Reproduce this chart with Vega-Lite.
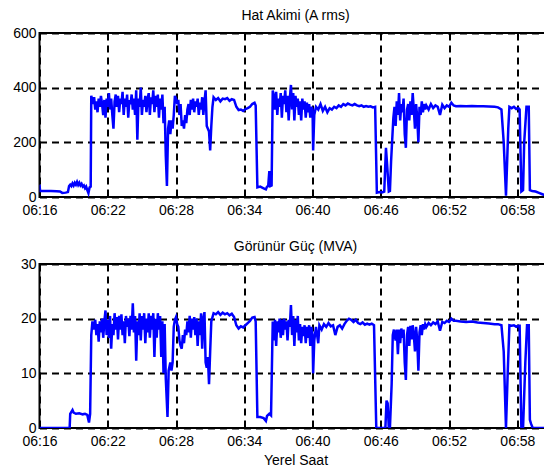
{
  "$schema": "https://vega.github.io/schema/vega-lite/v6.json",
  "padding": {"left": 11.5, "top": 8, "right": 0, "bottom": 0},
  "background": "white",
  "spacing": 21,
  "config": {
    "font": "Liberation Sans",
    "view": {"stroke": "black", "strokeWidth": 2},
    "axis": {
      "grid": true, "gridColor": "black", "gridDash": [7, 5], "gridWidth": 2, "gridOpacity": 1,
      "domain": false, "ticks": false,
      "labelFont": "Liberation Sans", "labelFontSize": 14, "labelColor": "black",
      "titleFont": "Liberation Sans", "titleFontSize": 14, "titleFontWeight": "normal", "titleColor": "black"
    },
    "title": {"font": "Liberation Sans", "fontSize": 14, "fontWeight": "normal", "color": "black", "offset": 3}
  },
  "datasets": {
    "current": [
      {"t":16.0,"v":45},{"t":16.05,"v":22},{"t":16.5,"v":22},{"t":17.0,"v":22},{"t":17.5,"v":21},{"t":17.8,"v":20},{"t":18.0,"v":15},{"t":18.3,"v":16},{"t":18.5,"v":18},
      {"t":18.6,"v":40},{"t":18.7,"v":45},{"t":18.8,"v":40},{"t":18.9,"v":50},{"t":19.0,"v":42},{"t":19.1,"v":52},{"t":19.2,"v":45},{"t":19.3,"v":55},{"t":19.4,"v":44},{"t":19.5,"v":52},{"t":19.6,"v":42},{"t":19.7,"v":48},{"t":19.8,"v":38},{"t":19.9,"v":42},{"t":20.0,"v":32},{"t":20.1,"v":38},{"t":20.2,"v":25},{"t":20.3,"v":14},{"t":20.4,"v":35},{"t":20.5,"v":38},
      {"t":20.55,"v":370},{"t":20.6,"v":360},{"t":20.7,"v":340},{"t":20.8,"v":365},{"t":20.9,"v":320},{"t":21.0,"v":350},{"t":21.1,"v":310},{"t":21.2,"v":360},{"t":21.3,"v":330},{"t":21.4,"v":370},{"t":21.5,"v":340},{"t":21.6,"v":300},{"t":21.7,"v":355},{"t":21.8,"v":290},{"t":21.9,"v":360},{"t":22.0,"v":330},{"t":22.1,"v":380},{"t":22.2,"v":320},{"t":22.3,"v":360},{"t":22.4,"v":300},{"t":22.5,"v":250},{"t":22.6,"v":350},{"t":22.7,"v":375},{"t":22.8,"v":330},{"t":22.9,"v":370},{"t":23.0,"v":310},{"t":23.1,"v":360},{"t":23.2,"v":340},{"t":23.3,"v":385},{"t":23.4,"v":300},{"t":23.5,"v":360},{"t":23.6,"v":330},{"t":23.7,"v":375},{"t":23.8,"v":290},{"t":23.9,"v":355},{"t":24.0,"v":340},{"t":24.1,"v":375},{"t":24.2,"v":320},{"t":24.3,"v":360},{"t":24.4,"v":300},{"t":24.5,"v":390},{"t":24.6,"v":210},{"t":24.7,"v":360},{"t":24.8,"v":330},{"t":24.9,"v":400},{"t":25.0,"v":300},{"t":25.1,"v":355},{"t":25.2,"v":330},{"t":25.3,"v":370},{"t":25.4,"v":310},{"t":25.5,"v":360},{"t":25.6,"v":380},{"t":25.7,"v":300},{"t":25.8,"v":365},{"t":25.9,"v":340},{"t":26.0,"v":390},{"t":26.1,"v":310},{"t":26.2,"v":370},{"t":26.3,"v":330},{"t":26.4,"v":375},{"t":26.5,"v":290},{"t":26.6,"v":360},{"t":26.7,"v":320},{"t":26.8,"v":375},{"t":26.9,"v":270},{"t":27.0,"v":330},{"t":27.1,"v":150},{"t":27.2,"v":40},{"t":27.3,"v":250},{"t":27.4,"v":280},{"t":27.5,"v":230},{"t":27.6,"v":280},{"t":27.7,"v":250},{"t":27.8,"v":300},{"t":27.9,"v":370},
      {"t":28.0,"v":360},{"t":28.1,"v":340},{"t":28.2,"v":355},{"t":28.3,"v":300},{"t":28.4,"v":340},{"t":28.5,"v":260},{"t":28.6,"v":280},{"t":28.7,"v":250},{"t":28.8,"v":300},{"t":28.9,"v":270},{"t":29.0,"v":320},{"t":29.1,"v":340},{"t":29.2,"v":300},{"t":29.3,"v":355},{"t":29.4,"v":320},{"t":29.5,"v":360},{"t":29.6,"v":310},{"t":29.7,"v":350},{"t":29.8,"v":330},{"t":29.9,"v":360},{"t":30.0,"v":300},{"t":30.1,"v":345},{"t":30.2,"v":320},{"t":30.3,"v":365},{"t":30.4,"v":300},{"t":30.5,"v":350},{"t":30.6,"v":390},{"t":30.7,"v":260},{"t":30.8,"v":250},{"t":30.9,"v":240},{"t":31.0,"v":170},{"t":31.1,"v":260},{"t":31.2,"v":330},{"t":31.3,"v":365},{"t":31.5,"v":355},{"t":31.7,"v":362},{"t":31.9,"v":350},{"t":32.1,"v":360},{"t":32.3,"v":358},{"t":32.5,"v":362},{"t":32.7,"v":352},{"t":32.9,"v":358},{"t":33.1,"v":355},{"t":33.3,"v":330},{"t":33.5,"v":318},{"t":33.7,"v":320},{"t":33.9,"v":315},{"t":34.1,"v":322},{"t":34.3,"v":325},{"t":34.5,"v":330},{"t":34.7,"v":340},{"t":34.9,"v":345},{"t":35.0,"v":335},
      {"t":35.15,"v":35},{"t":35.4,"v":38},{"t":35.7,"v":32},{"t":35.9,"v":28},{"t":36.0,"v":38},{"t":36.1,"v":40},{"t":36.2,"v":95},{"t":36.3,"v":40},{"t":36.4,"v":42},
      {"t":36.5,"v":390},{"t":36.6,"v":370},{"t":36.7,"v":320},{"t":36.8,"v":385},{"t":36.9,"v":300},{"t":37.0,"v":360},{"t":37.1,"v":330},{"t":37.2,"v":380},{"t":37.3,"v":290},{"t":37.4,"v":370},{"t":37.5,"v":340},{"t":37.6,"v":390},{"t":37.7,"v":310},{"t":37.8,"v":370},{"t":37.9,"v":280},{"t":38.0,"v":360},{"t":38.1,"v":410},{"t":38.2,"v":320},{"t":38.3,"v":380},{"t":38.4,"v":280},{"t":38.5,"v":370},{"t":38.6,"v":330},{"t":38.7,"v":360},{"t":38.8,"v":300},{"t":38.9,"v":350},{"t":39.0,"v":280},{"t":39.1,"v":360},{"t":39.2,"v":320},{"t":39.3,"v":350},{"t":39.4,"v":290},{"t":39.5,"v":345},{"t":39.6,"v":310},{"t":39.7,"v":340},{"t":39.8,"v":290},{"t":39.9,"v":330},{"t":40.0,"v":320},{"t":40.05,"v":170},{"t":40.15,"v":300},
      {"t":40.3,"v":330},{"t":40.5,"v":320},{"t":40.7,"v":340},{"t":40.9,"v":315},{"t":41.1,"v":330},{"t":41.3,"v":310},{"t":41.5,"v":325},{"t":41.7,"v":320},{"t":41.9,"v":330},{"t":42.1,"v":325},{"t":42.3,"v":335},{"t":42.5,"v":330},{"t":42.7,"v":340},{"t":42.9,"v":335},{"t":43.1,"v":342},{"t":43.3,"v":338},{"t":43.5,"v":335},{"t":43.7,"v":340},{"t":43.9,"v":335},{"t":44.1,"v":332},{"t":44.3,"v":335},{"t":44.5,"v":330},{"t":44.7,"v":333},{"t":44.9,"v":330},{"t":45.1,"v":332},{"t":45.3,"v":328},{"t":45.5,"v":330},
      {"t":45.65,"v":16},{"t":45.9,"v":18},{"t":46.1,"v":17},{"t":46.3,"v":20},{"t":46.45,"v":180},{"t":46.55,"v":120},{"t":46.7,"v":20},{"t":46.8,"v":22},{"t":46.9,"v":130},
      {"t":47.1,"v":290},{"t":47.2,"v":330},{"t":47.3,"v":260},{"t":47.4,"v":350},{"t":47.5,"v":300},{"t":47.6,"v":380},{"t":47.7,"v":280},{"t":47.8,"v":340},{"t":47.9,"v":310},{"t":48.0,"v":360},{"t":48.1,"v":230},{"t":48.2,"v":180},{"t":48.3,"v":320},{"t":48.4,"v":340},{"t":48.5,"v":280},{"t":48.6,"v":350},{"t":48.7,"v":300},{"t":48.8,"v":380},{"t":48.9,"v":320},{"t":49.0,"v":250},{"t":49.1,"v":340},{"t":49.2,"v":290},{"t":49.3,"v":200},{"t":49.4,"v":330},{"t":49.5,"v":300},{"t":49.6,"v":350},{"t":49.7,"v":310},{"t":49.8,"v":340},{"t":49.9,"v":320},
      {"t":50.0,"v":335},{"t":50.2,"v":320},{"t":50.4,"v":340},{"t":50.6,"v":325},{"t":50.8,"v":335},{"t":51.0,"v":330},{"t":51.2,"v":300},{"t":51.4,"v":338},{"t":51.6,"v":325},{"t":51.8,"v":335},{"t":52.0,"v":330},{"t":52.2,"v":345},{"t":52.4,"v":335},{"t":52.6,"v":332},{"t":53.0,"v":333},{"t":53.5,"v":332},{"t":54.0,"v":333},{"t":54.5,"v":332},{"t":55.0,"v":332},{"t":55.5,"v":331},{"t":56.0,"v":330},{"t":56.3,"v":328},{"t":56.6,"v":320},
      {"t":56.8,"v":200},{"t":57.0,"v":5},{"t":57.2,"v":250},{"t":57.3,"v":330},{"t":57.5,"v":325},{"t":57.7,"v":330},{"t":57.9,"v":322},{"t":58.1,"v":325},{"t":58.2,"v":320},{"t":58.35,"v":20},{"t":58.5,"v":25},{"t":58.6,"v":200},{"t":58.8,"v":330},{"t":59.0,"v":330},{"t":59.1,"v":25},{"t":59.3,"v":22},{"t":59.6,"v":20},{"t":59.9,"v":15},{"t":60.2,"v":10},{"t":60.5,"v":5},{"t":60.8,"v":2}
    ],
    "power": [
      {"t":16.0,"v":0},{"t":18.65,"v":0},{"t":18.7,"v":2.6},{"t":18.9,"v":3.3},{"t":19.0,"v":2.8},{"t":19.2,"v":2.6},{"t":19.5,"v":2.7},{"t":19.8,"v":2.5},{"t":20.0,"v":2.6},{"t":20.2,"v":2.4},{"t":20.35,"v":1.0},{"t":20.45,"v":2.6},
      {"t":20.55,"v":17},{"t":20.65,"v":19.5},{"t":20.8,"v":18},{"t":20.9,"v":19.8},{"t":21.0,"v":17},{"t":21.1,"v":19},{"t":21.2,"v":15.8},{"t":21.3,"v":19.5},{"t":21.4,"v":17.5},{"t":21.5,"v":20},{"t":21.6,"v":16.5},{"t":21.7,"v":19.5},{"t":21.8,"v":21.5},{"t":21.9,"v":17},{"t":22.0,"v":19.8},{"t":22.1,"v":16.5},{"t":22.2,"v":20.5},{"t":22.3,"v":14.5},{"t":22.4,"v":19},{"t":22.5,"v":17},{"t":22.6,"v":21},{"t":22.7,"v":18},{"t":22.8,"v":20.3},{"t":22.9,"v":16.2},{"t":23.0,"v":20.5},{"t":23.1,"v":18},{"t":23.2,"v":20.8},{"t":23.3,"v":17},{"t":23.4,"v":19.5},{"t":23.5,"v":15.5},{"t":23.6,"v":20.5},{"t":23.7,"v":18.5},{"t":23.8,"v":20},{"t":23.9,"v":16.8},{"t":24.0,"v":20.5},{"t":24.1,"v":18},{"t":24.2,"v":22.8},{"t":24.3,"v":17.5},{"t":24.4,"v":20.5},{"t":24.5,"v":12.3},{"t":24.6,"v":19.5},{"t":24.7,"v":17},{"t":24.8,"v":21},{"t":24.9,"v":16},{"t":25.0,"v":20.5},{"t":25.1,"v":18},{"t":25.2,"v":21},{"t":25.3,"v":15.5},{"t":25.4,"v":20},{"t":25.5,"v":17.5},{"t":25.6,"v":21},{"t":25.7,"v":16.5},{"t":25.8,"v":20.5},{"t":25.9,"v":18},{"t":26.0,"v":21},{"t":26.1,"v":13},{"t":26.2,"v":20},{"t":26.3,"v":16.5},{"t":26.4,"v":21},{"t":26.5,"v":18},{"t":26.6,"v":20.5},{"t":26.7,"v":13},{"t":26.8,"v":19.5},{"t":26.9,"v":10},{"t":27.0,"v":19},{"t":27.1,"v":9},{"t":27.25,"v":2},{"t":27.35,"v":10.5},{"t":27.5,"v":12},{"t":27.6,"v":10.5},{"t":27.7,"v":12},{"t":27.8,"v":18.5},{"t":27.9,"v":19.8},
      {"t":28.0,"v":20.3},{"t":28.1,"v":19},{"t":28.2,"v":18.5},{"t":28.3,"v":16},{"t":28.4,"v":15},{"t":28.5,"v":14.5},{"t":28.6,"v":17},{"t":28.7,"v":15.5},{"t":28.8,"v":18},{"t":28.9,"v":17},{"t":29.0,"v":19.5},{"t":29.1,"v":17.5},{"t":29.2,"v":20.5},{"t":29.3,"v":16.5},{"t":29.4,"v":20},{"t":29.5,"v":18},{"t":29.6,"v":20.3},{"t":29.7,"v":17},{"t":29.8,"v":20},{"t":29.9,"v":15},{"t":30.0,"v":19.5},{"t":30.1,"v":17},{"t":30.2,"v":21},{"t":30.3,"v":14.5},{"t":30.4,"v":20},{"t":30.5,"v":21.2},{"t":30.6,"v":12},{"t":30.7,"v":11},{"t":30.8,"v":13},{"t":30.9,"v":8},{"t":31.0,"v":14},{"t":31.1,"v":19.5},{"t":31.3,"v":21},{"t":31.5,"v":20.8},{"t":31.7,"v":21.2},{"t":31.9,"v":20.7},{"t":32.1,"v":21.1},{"t":32.3,"v":20.8},{"t":32.5,"v":21},{"t":32.7,"v":20.6},{"t":32.9,"v":20.9},{"t":33.1,"v":20.3},{"t":33.3,"v":18.8},{"t":33.5,"v":18.2},{"t":33.7,"v":18.6},{"t":33.9,"v":18.4},{"t":34.1,"v":18.8},{"t":34.3,"v":19.2},{"t":34.5,"v":19.6},{"t":34.7,"v":20.2},{"t":34.9,"v":20.3},{"t":35.0,"v":19.5},
      {"t":35.15,"v":2},{"t":35.4,"v":2},{"t":35.7,"v":1.8},{"t":35.9,"v":1.3},{"t":36.0,"v":2.2},{"t":36.2,"v":2.6},{"t":36.35,"v":2.3},
      {"t":36.5,"v":19.5},{"t":36.6,"v":16},{"t":36.7,"v":19.8},{"t":36.8,"v":15},{"t":36.9,"v":19.5},{"t":37.0,"v":17.5},{"t":37.1,"v":20},{"t":37.2,"v":16.5},{"t":37.3,"v":19.8},{"t":37.4,"v":17},{"t":37.5,"v":20},{"t":37.6,"v":18},{"t":37.7,"v":19.5},{"t":37.8,"v":16},{"t":37.9,"v":19.8},{"t":38.0,"v":18.5},{"t":38.1,"v":22.5},{"t":38.2,"v":17},{"t":38.3,"v":20.5},{"t":38.4,"v":15},{"t":38.5,"v":19.8},{"t":38.6,"v":17.5},{"t":38.7,"v":20.5},{"t":38.8,"v":16},{"t":38.9,"v":19},{"t":39.0,"v":15.5},{"t":39.1,"v":18.5},{"t":39.2,"v":16.8},{"t":39.3,"v":18.8},{"t":39.4,"v":15.5},{"t":39.5,"v":18.5},{"t":39.6,"v":16.5},{"t":39.7,"v":18.8},{"t":39.8,"v":15},{"t":39.9,"v":18.5},{"t":40.0,"v":17},{"t":40.05,"v":10},{"t":40.15,"v":16},
      {"t":40.3,"v":18.5},{"t":40.4,"v":17},{"t":40.5,"v":15.5},{"t":40.6,"v":18.8},{"t":40.8,"v":18},{"t":41.0,"v":19},{"t":41.2,"v":18.5},{"t":41.4,"v":19.2},{"t":41.6,"v":18.6},{"t":41.8,"v":18.8},{"t":42.0,"v":17},{"t":42.2,"v":18.5},{"t":42.4,"v":18.8},{"t":42.6,"v":18.2},{"t":42.8,"v":19},{"t":43.0,"v":19.6},{"t":43.2,"v":20},{"t":43.4,"v":19.8},{"t":43.6,"v":19.4},{"t":43.8,"v":19.8},{"t":44.0,"v":19.2},{"t":44.2,"v":19.0},{"t":44.4,"v":19.3},{"t":44.6,"v":18.9},{"t":44.8,"v":19.1},{"t":45.0,"v":18.9},{"t":45.2,"v":19.1},{"t":45.4,"v":18.8},
      {"t":45.6,"v":0},{"t":46.0,"v":0},{"t":46.4,"v":0},{"t":46.5,"v":5},{"t":46.6,"v":4.5},{"t":46.7,"v":0},{"t":46.8,"v":0},{"t":46.95,"v":8},
      {"t":47.05,"v":17},{"t":47.15,"v":18},{"t":47.3,"v":16},{"t":47.4,"v":18},{"t":47.5,"v":13.5},{"t":47.6,"v":18},{"t":47.7,"v":15.5},{"t":47.8,"v":18.2},{"t":47.9,"v":16.5},{"t":48.0,"v":18},{"t":48.1,"v":12},{"t":48.2,"v":8.8},{"t":48.3,"v":17},{"t":48.4,"v":18.5},{"t":48.5,"v":15},{"t":48.6,"v":18.7},{"t":48.7,"v":16.2},{"t":48.8,"v":18.8},{"t":48.9,"v":17},{"t":49.0,"v":14},{"t":49.1,"v":18.5},{"t":49.2,"v":16},{"t":49.3,"v":10.5},{"t":49.4,"v":17.5},{"t":49.5,"v":18.8},{"t":49.6,"v":17},{"t":49.7,"v":19},{"t":49.8,"v":18},{"t":49.9,"v":19},
      {"t":50.0,"v":18.5},{"t":50.2,"v":19.2},{"t":50.4,"v":18.8},{"t":50.6,"v":19.3},{"t":50.8,"v":19},{"t":51.0,"v":19.5},{"t":51.2,"v":17.8},{"t":51.4,"v":19.4},{"t":51.6,"v":19.2},{"t":51.8,"v":19.6},{"t":52.0,"v":19.4},{"t":52.2,"v":20},{"t":52.4,"v":19.6},{"t":52.6,"v":19.6},{"t":53.0,"v":19.5},{"t":53.5,"v":19.4},{"t":54.0,"v":19.5},{"t":54.5,"v":19.3},{"t":55.0,"v":19.2},{"t":55.5,"v":19.1},{"t":56.0,"v":19.0},{"t":56.3,"v":19.0},{"t":56.6,"v":18.8},
      {"t":56.8,"v":14},{"t":57.0,"v":0},{"t":57.15,"v":10},{"t":57.3,"v":18.8},{"t":57.5,"v":18.7},{"t":57.7,"v":18.8},{"t":57.9,"v":18.5},{"t":58.1,"v":18.7},{"t":58.2,"v":18.7},{"t":58.35,"v":0},{"t":58.5,"v":0},{"t":58.7,"v":12},{"t":58.85,"v":18.8},{"t":59.0,"v":18.8},{"t":59.1,"v":1.5},{"t":59.2,"v":0.8},{"t":59.35,"v":0},{"t":61.0,"v":0}
    ]
  },
  "vconcat": [
    {
      "title": "Hat Akimi (A rms)",
      "width": 512,
      "height": 164,
      "data": {"name": "current"},
      "mark": {"type": "line", "color": "#0000ff", "strokeWidth": 2.5, "clip": true},
      "encoding": {
        "x": {"field": "t", "type": "quantitative",
              "scale": {"domain": [16, 61], "nice": false, "zero": false},
              "axis": {"values": [16, 22, 28, 34, 40, 46, 52, 58], "labelExpr": "'06:' + datum.value", "labelFlush": false, "labelPadding": 6, "title": null}},
        "y": {"field": "v", "type": "quantitative",
              "scale": {"domain": [0, 600], "nice": false},
              "axis": {"values": [0, 200, 400, 600], "labelPadding": 3.5, "title": null}}
      }
    },
    {
      "title": "Görünür Güç (MVA)",
      "width": 512,
      "height": 164,
      "data": {"name": "power"},
      "mark": {"type": "line", "color": "#0000ff", "strokeWidth": 2.5, "clip": true},
      "encoding": {
        "x": {"field": "t", "type": "quantitative",
              "scale": {"domain": [16, 61], "nice": false, "zero": false},
              "axis": {"values": [16, 22, 28, 34, 40, 46, 52, 58], "labelExpr": "'06:' + datum.value", "labelFlush": false, "labelPadding": 6, "title": "Yerel Saat", "titlePadding": 5}},
        "y": {"field": "v", "type": "quantitative",
              "scale": {"domain": [0, 30], "nice": false},
              "axis": {"values": [0, 10, 20, 30], "labelPadding": 3.5, "title": null}}
      }
    }
  ]
}
